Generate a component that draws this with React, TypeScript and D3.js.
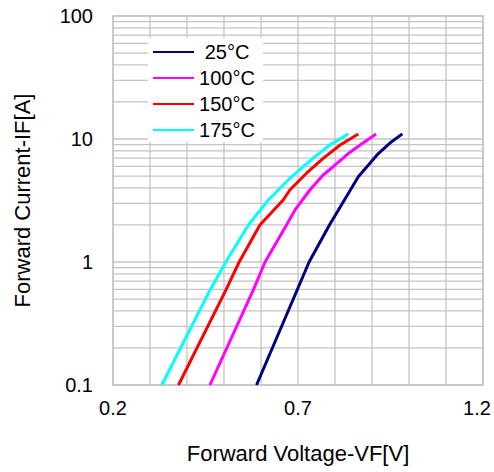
import React from "react";
import * as d3 from "d3";

const seriesNames = ["25°C", "100°C", "150°C", "175°C"];
const seriesColors = ["#000080", "#ff00ff", "#ff0000", "#00ffff"];

const v25 = [0.588, 0.73, 0.785, 0.863, 0.917, 0.953, 0.982];
const i25 = [0.1, 1, 2, 4.94, 7.62, 9.5, 11.0];
const v100 = [0.462, 0.579, 0.611, 0.669, 0.692, 0.732, 0.768, 0.795, 0.836, 0.868, 0.911];
const i100 = [0.1, 0.59, 1, 2, 2.65, 3.85, 5.1, 5.95, 7.62, 8.93, 11.0];
const v150 = [0.377, 0.505, 0.541, 0.597, 0.66, 0.678, 0.723, 0.768, 0.814, 0.863];
const i150 = [0.1, 0.59, 1, 2, 3.19, 3.85, 5.27, 6.96, 8.93, 11.0];
const v175 = [0.332, 0.462, 0.505, 0.566, 0.62, 0.678, 0.714, 0.751, 0.786, 0.836];
const i175 = [0.1, 0.59, 1, 2, 3.19, 4.79, 5.95, 7.4, 8.93, 11.0];

const xTicks = [0.2, 0.7, 1.2];
const xTickLabels = ["0.2", "0.7", "1.2"];
const xGrid = [0.2, 0.3, 0.4, 0.5, 0.6, 0.7, 0.8, 0.9, 1.0, 1.1, 1.2];
const yTicks = [0.1, 1, 10, 100];
const yTickLabels = ["0.1", "1", "10", "100"];

const xTitle = "Forward Voltage-VF[V]";
const yTitle = "Forward Current-IF[A]";

export default function App() {
  const W = 494, H = 472;
  const left = 113, right = 483, top = 16, bottom = 385;
  const x = d3.scaleLinear().domain([0.2, 1.2]).range([left, right]);
  const y = d3.scaleLog().domain([0.1, 100]).range([bottom, top]);
  const yGrid: number[] = [];
  [0.1, 1, 10].forEach((d) => {
    for (let k = 1; k <= 9; k++) yGrid.push(d * k);
  });
  yGrid.push(100);

  const vs = [v25, v100, v150, v175];
  const is = [i25, i100, i150, i175];
  const line = d3
    .line<[number, number]>()
    .x((d) => x(d[0]))
    .y((d) => y(d[1]));

  const font = "Arial, 'Liberation Sans', sans-serif";
  const grid = "#c4c4c4";

  return (
    <svg width={W} height={H} style={{ position: "absolute", left: 0, top: 0, background: "#fff" }}>
      <rect x={0} y={0} width={W} height={H} fill="#fff" />
      {yGrid.map((g, i) => (
        <line key={"yg" + i} x1={left} x2={right} y1={y(g)} y2={y(g)} stroke={grid} strokeWidth={1.3} />
      ))}
      {xGrid.map((g, i) => (
        <line key={"xg" + i} x1={x(g)} x2={x(g)} y1={top} y2={bottom} stroke={grid} strokeWidth={1.3} />
      ))}
      <rect x={left} y={top} width={right - left} height={bottom - top} fill="none" stroke={grid} strokeWidth={1.5} />

      {vs.map((v, si) => (
        <path
          key={"s" + si}
          d={line(v.map((vv, k) => [vv, is[si][k]] as [number, number])) || ""}
          fill="none"
          stroke={seriesColors[si]}
          strokeWidth={3}
          strokeLinejoin="round"
        />
      ))}

      <rect x={148} y={38} width={115} height={104} fill="#fff" />
      {seriesNames.map((n, i) => {
        const yy = 52 + i * 26;
        return (
          <g key={"lg" + i}>
            <line x1={153} x2={194} y1={yy} y2={yy} stroke={seriesColors[i]} strokeWidth={2} />
            <text x={227} y={yy + 7} fontSize={20} fontFamily={font} textAnchor="middle" fill="#000">
              {n}
            </text>
          </g>
        );
      })}

      {xTicks.map((t, i) => (
        <text
          key={"xt" + i}
          x={Math.min(x(t), W - 17)}
          y={415}
          fontSize={20}
          fontFamily={font}
          textAnchor="middle"
          fill="#000"
        >
          {xTickLabels[i]}
        </text>
      ))}
      {yTicks.map((t, i) => (
        <text key={"yt" + i} x={93} y={y(t) + 7} fontSize={20} fontFamily={font} textAnchor="end" fill="#000">
          {yTickLabels[i]}
        </text>
      ))}
      <text x={(left + right) / 2} y={461} fontSize={22} fontFamily={font} textAnchor="middle" fill="#000">
        {xTitle}
      </text>
      <text
        transform={`translate(30, ${(top + bottom) / 2}) rotate(-90)`}
        fontSize={22}
        fontFamily={font}
        textAnchor="middle"
        fill="#000"
      >
        {yTitle}
      </text>
    </svg>
  );
}
